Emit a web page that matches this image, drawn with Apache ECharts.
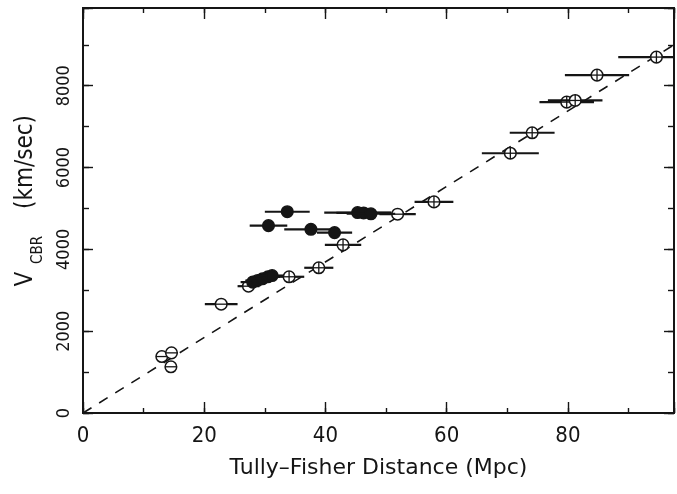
<!DOCTYPE html>
<html>
<head>
<meta charset="utf-8">
<script src="https://cdn.jsdelivr.net/npm/echarts@6/dist/echarts.min.js"></script>
<style>
    html, body { margin: 0; padding: 0; background: #fff; }
    #chart { width: 677px; height: 494px; }
</style>
</head>
<body>
<div id="chart"></div>
<script>
    // open symbols, cross = 1 means the small vertical stroke inside the circle
    var openDist = [13.0, 14.6, 14.5, 22.8, 27.3, 34.0, 38.9, 42.9, 51.9, 57.9, 70.5, 74.1, 79.8, 81.2, 84.8, 94.6]
    var openVel = [1380, 1470, 1130, 2660, 3100, 3330, 3550, 4110, 4860, 5160, 6350, 6850, 7600, 7640, 8260, 8700]
    var openErr = [0.9, 0.9, 0.9, 2.7, 1.8, 2.5, 2.4, 3.0, 3.0, 3.2, 4.7, 3.7, 4.5, 4.5, 5.3, 6.3]
    var openCross = [0, 0, 0, 0, 0, 1, 1, 1, 0, 1, 1, 1, 1, 1, 1, 1]

    // filled symbols
    var filledDist = [28.0, 28.8, 29.6, 30.5, 31.2, 30.6, 33.7, 37.6, 41.5, 45.3, 46.3, 47.5]
    var filledVel = [3200, 3240, 3280, 3330, 3360, 4580, 4920, 4490, 4410, 4900, 4890, 4870]
    var filledErr = [2.0, 2.0, 2.0, 2.0, 2.0, 3.1, 3.7, 4.4, 2.9, 5.5, 4.5, 4.0]

    // dashed line, end points
    var fitLine = [[0, 0], [97.5, 9000]]

    var xLabels = [0, 20, 40, 60, 80]
    var yLabels = [0, 2000, 4000, 6000, 8000]

    var ink = '#151515'
    var labelFont = "'DejaVu Sans Condensed', 'Liberation Sans Narrow', 'DejaVu Sans', sans-serif"

    function renderPoint (filled) {
        return function (params, api) {
            var x = api.value(0)
            var y = api.value(1)
            var e = api.value(2)
            var c = api.coord([x, y])
            var l = api.coord([x - e, y])
            var r = api.coord([x + e, y])
            var cs = params.coordSys
            var x1 = Math.max(l[0], cs.x)
            var x2 = Math.min(r[0], cs.x + cs.width)
            var rad = 5.8
            var children = [
                { type: 'line', shape: { x1: x1, y1: c[1], x2: x2, y2: c[1] }, style: { stroke: ink, lineWidth: 2.2 } },
                { type: 'circle', shape: { cx: c[0], cy: c[1], r: rad }, style: { fill: filled ? ink : '#fff', stroke: ink, lineWidth: 1.5 } }
            ]
            if (!filled) {
                children.push({ type: 'line', shape: { x1: c[0] - rad, y1: c[1], x2: c[0] + rad, y2: c[1] }, style: { stroke: ink, lineWidth: 1.3 } })
                if (api.value(3)) {
                    children.push({ type: 'line', shape: { x1: c[0], y1: c[1] - rad, x2: c[0], y2: c[1] + rad }, style: { stroke: ink, lineWidth: 1.3 } })
                }
            }
            return { type: 'group', children: children }
        }
    }

    function xAxis (position, interval, tickLen, labels) {
        return {
            type: 'value',
            position: position,
            min: 0,
            max: 97.5,
            interval: interval,
            axisLine: { show: true, onZero: false, lineStyle: { color: ink, width: 1.8 } },
            axisTick: { show: true, inside: true, length: tickLen, lineStyle: { color: ink, width: 1.4 } },
            axisLabel: labels ? {
                show: true,
                margin: 12,
                fontSize: 22,
                fontFamily: labelFont,
                color: ink,
                formatter: function (v) { return xLabels.indexOf(v) > -1 ? String(v) : '' }
            } : { show: false },
            splitLine: { show: false }
        }
    }

    function yAxis (position, interval, tickLen, labels) {
        return {
            type: 'value',
            position: position,
            min: 0,
            max: 9900,
            interval: interval,
            axisLine: { show: true, onZero: false, lineStyle: { color: ink, width: 1.8 } },
            axisTick: { show: true, inside: true, length: tickLen, lineStyle: { color: ink, width: 1.4 } },
            axisLabel: labels ? {
                show: true,
                rotate: 90,
                margin: 10,
                fontSize: 18,
                fontFamily: labelFont,
                color: ink,
                formatter: function (v) { return yLabels.indexOf(v) > -1 ? String(v) : '' }
            } : { show: false },
            splitLine: { show: false }
        }
    }

    var chart = echarts.init(document.getElementById('chart'))

    var xMain = xAxis('bottom', 20, 11, true)
    xMain.name = 'Tully\u2013Fisher Distance (Mpc)'
    xMain.nameLocation = 'middle'
    xMain.nameGap = 44
    xMain.nameTextStyle = { fontSize: 22, fontFamily: "'DejaVu Sans', sans-serif", color: ink }

    var option = {
        backgroundColor: '#fff',
        animation: false,
        grid: { left: 83, right: 2, top: 8, bottom: 81 },
        xAxis: [
            xMain,
            xAxis('top', 20, 11, false),
            xAxis('bottom', 10, 5, false),
            xAxis('top', 10, 5, false)
        ],
        yAxis: [
            yAxis('left', 2000, 10, true),
            yAxis('right', 2000, 10, false),
            yAxis('left', 1000, 6, false),
            yAxis('right', 1000, 6, false)
        ],
        graphic: [
            { type: 'text', x: 26, y: 279, rotation: Math.PI / 2, style: { text: 'V', fontSize: 24, fontFamily: labelFont, fill: ink, textAlign: 'center', textVerticalAlign: 'middle' } },
            { type: 'text', x: 38, y: 250, rotation: Math.PI / 2, style: { text: 'CBR', fontSize: 15, fontFamily: labelFont, fill: ink, textAlign: 'center', textVerticalAlign: 'middle' } },
            { type: 'text', x: 26, y: 162, rotation: Math.PI / 2, style: { text: '(km/sec)', fontSize: 24, fontFamily: labelFont, fill: ink, textAlign: 'center', textVerticalAlign: 'middle' } }
        ],
        series: [
            {
                type: 'line',
                data: fitLine,
                symbol: 'none',
                lineStyle: { color: ink, width: 1.6, type: [10, 9] },
                z: 1
            },
            {
                type: 'custom',
                renderItem: renderPoint(false),
                data: openDist.map(function (d, i) { return [d, openVel[i], openErr[i], openCross[i]] }),
                z: 3
            },
            {
                type: 'custom',
                renderItem: renderPoint(true),
                data: filledDist.map(function (d, i) { return [d, filledVel[i], filledErr[i]] }),
                z: 4
            }
        ]
    }
    chart.setOption(option)
</script>
</body>
</html>
